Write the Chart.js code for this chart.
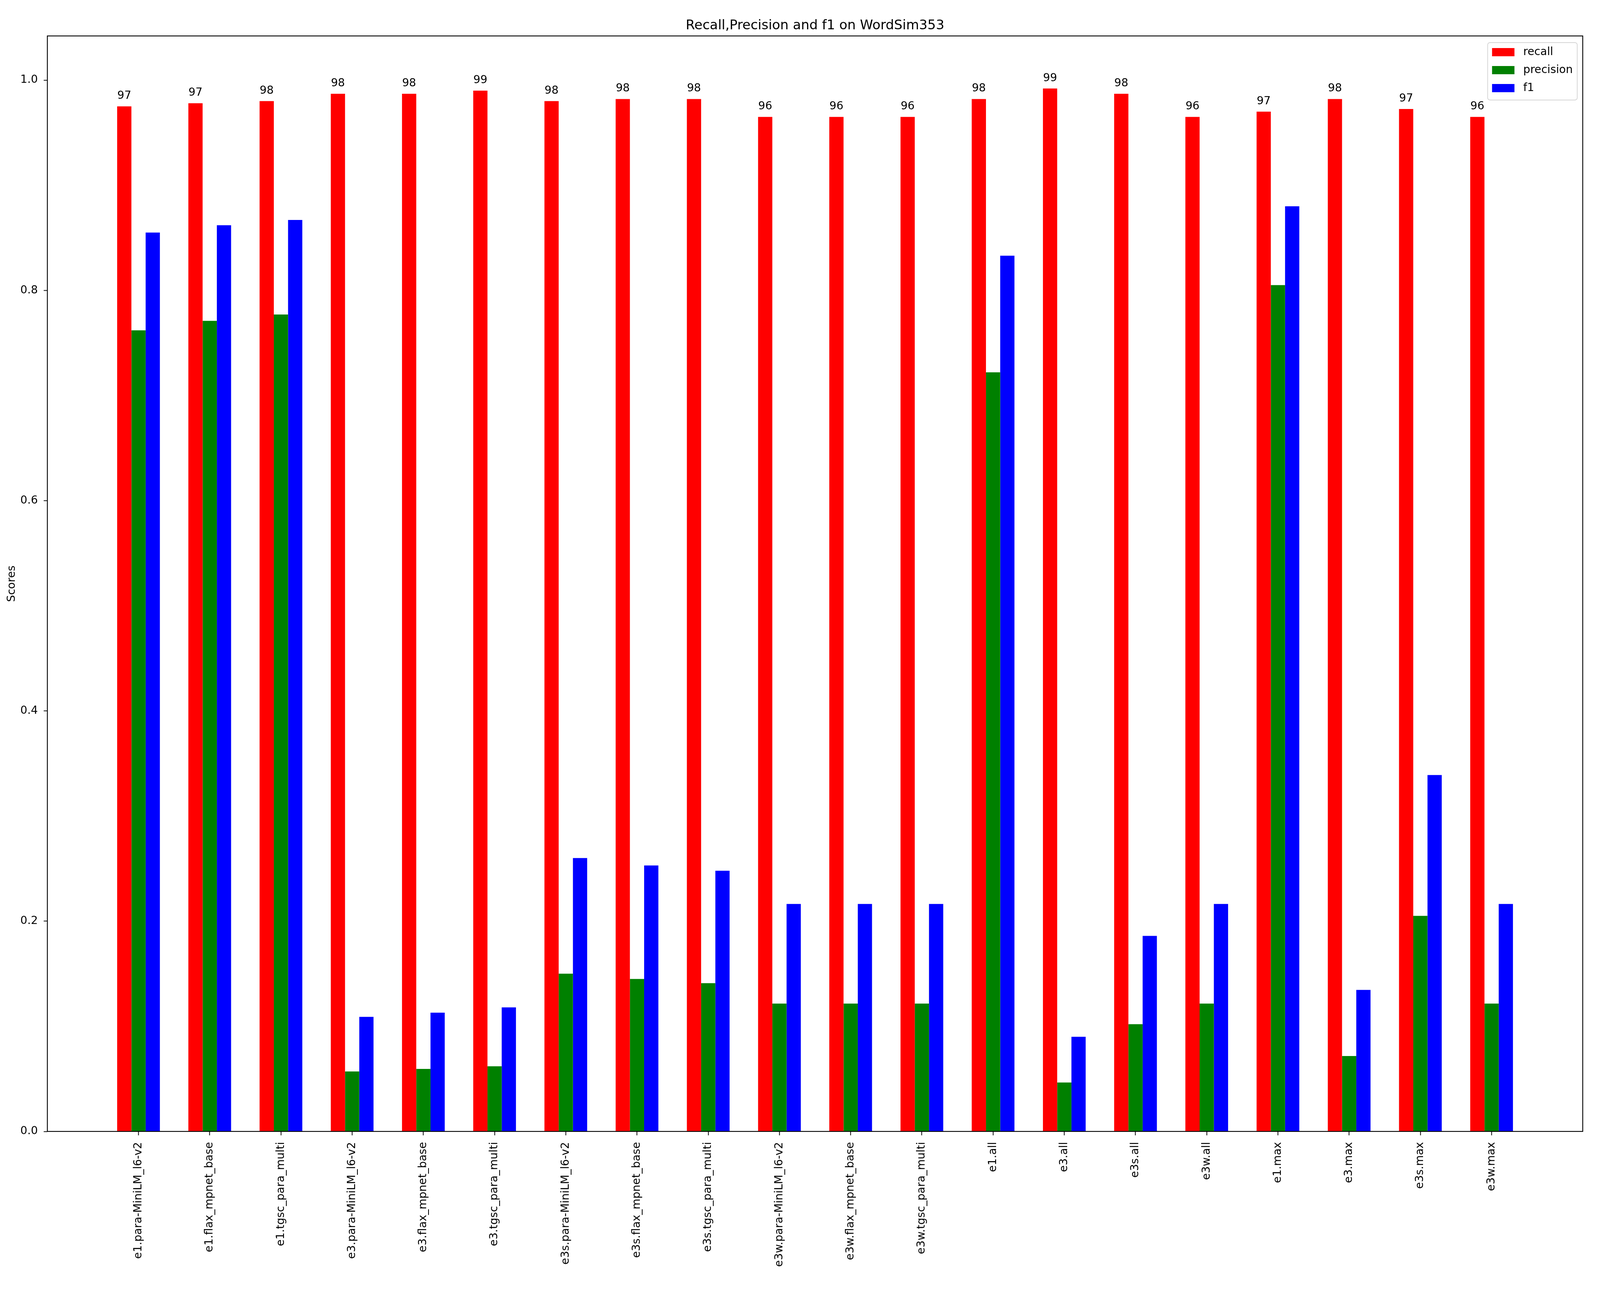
<!DOCTYPE html>
<html>
<head>
<meta charset="utf-8">
<title>Recall,Precision and f1 on WordSim353</title>
<script src="https://cdn.jsdelivr.net/npm/chart.js@4.4.1/dist/chart.umd.min.js"></script>
<style>
    html, body { margin: 0; padding: 0; background: #fff; overflow: hidden; }
    canvas { display: block; }
</style>
</head>
<body>
<canvas id="scoreChart"></canvas>
<script>
// Data
const categories = [
    'e1.para-MiniLM_l6-v2', 'e1.flax_mpnet_base', 'e1.tgsc_para_multi',
    'e3.para-MiniLM_l6-v2', 'e3.flax_mpnet_base', 'e3.tgsc_para_multi',
    'e3s.para-MiniLM_l6-v2', 'e3s.flax_mpnet_base', 'e3s.tgsc_para_multi',
    'e3w.para-MiniLM_l6-v2', 'e3w.flax_mpnet_base', 'e3w.tgsc_para_multi',
    'e1.all', 'e3.all', 'e3s.all', 'e3w.all',
    'e1.max', 'e3.max', 'e3s.max', 'e3w.max'
];
const recall = [0.975, 0.978, 0.980, 0.987, 0.987, 0.990, 0.980, 0.982, 0.982, 0.965,
                0.965, 0.965, 0.982, 0.992, 0.987, 0.965, 0.970, 0.982, 0.9725, 0.965];
const precision = [0.762, 0.771, 0.777, 0.057, 0.0595, 0.062, 0.150, 0.145, 0.141, 0.1216,
                   0.1216, 0.1216, 0.722, 0.0465, 0.102, 0.1216, 0.805, 0.0717, 0.205, 0.1216];
const f1 = [0.855, 0.862, 0.867, 0.109, 0.113, 0.118, 0.260, 0.253, 0.248, 0.2164,
            0.2164, 0.2164, 0.833, 0.090, 0.186, 0.2164, 0.880, 0.1346, 0.339, 0.2164];
const yTicks = [0.0, 0.2, 0.4, 0.6, 0.8, 1.0];

const SERIES_COLORS = ['#ff0000', '#008000', '#0000ff'];
const FONT = 'DejaVu Sans';

// the layout was measured on a 4358x3307 picture; scale it to the window
const W = window.innerWidth || 4358;
const H = window.innerHeight || 3307;
const sx = W / 4358;
const sy = H / 3307;
const fs = Math.sqrt(sx * sy);

const canvas = document.getElementById('scoreChart');
canvas.style.width = W + 'px';
canvas.style.height = H + 'px';
canvas.width = W;
canvas.height = H;

Chart.defaults.font.family = FONT;
Chart.defaults.color = '#000';

const toPoints = arr => arr.map((v, i) => ({ x: i, y: v }));

// percent labels above the recall bars
const recallLabels = {
    id: 'recallLabels',
    afterDatasetsDraw(chart) {
        const ctx = chart.ctx;
        const meta = chart.getDatasetMeta(0);
        ctx.save();
        ctx.font = `${29 * fs}px "${FONT}"`;
        ctx.fillStyle = '#000';
        ctx.textAlign = 'center';
        ctx.textBaseline = 'alphabetic';
        meta.data.forEach((bar, i) => {
            ctx.fillText(String(Math.floor(recall[i] * 100 + 1e-9)), bar.x, bar.y - 19 * sy);
        });
        ctx.restore();
    }
};

// axes frame + legend inside the plot, matplotlib style
const frameAndLegend = {
    id: 'frameAndLegend',
    afterDraw(chart) {
        const ctx = chart.ctx;
        const a = chart.chartArea;
        ctx.save();
        ctx.strokeStyle = '#000';
        ctx.lineWidth = 2.3 * fs;
        ctx.strokeRect(a.left, a.top, a.right - a.left, a.bottom - a.top);

        const boxW = 244 * sx, boxH = 147 * sy;
        const bx = a.right - 15 * sx - boxW, by = a.top + 17 * sy;
        ctx.beginPath();
        ctx.roundRect(bx, by, boxW, boxH, 6 * fs);
        ctx.fillStyle = 'rgba(255,255,255,0.8)';
        ctx.fill();
        ctx.strokeStyle = '#d6d6d6';
        ctx.lineWidth = 2 * fs;
        ctx.stroke();

        ctx.font = `${29 * fs}px "${FONT}"`;
        ctx.textAlign = 'left';
        ctx.textBaseline = 'middle';
        chart.data.datasets.forEach((ds, i) => {
            const cy = by + (24.5 + i * 46) * sy;
            ctx.fillStyle = ds.backgroundColor;
            ctx.fillRect(bx + 12 * sx, cy - 10.5 * sy, 61 * sx, 21 * sy);
            ctx.fillStyle = '#000';
            ctx.fillText(ds.label, bx + 97 * sx, cy);
        });
        ctx.restore();
    }
};

const titleLine = 42 * sy;
const titleTop = 66 * sy - titleLine / 2;
const titleBottom = 92 * sy - titleTop - titleLine;

new Chart(canvas, {
    type: 'bar',
    data: {
        datasets: [
            { label: 'recall', data: toPoints(recall), backgroundColor: SERIES_COLORS[0] },
            { label: 'precision', data: toPoints(precision), backgroundColor: SERIES_COLORS[1] },
            { label: 'f1', data: toPoints(f1), backgroundColor: SERIES_COLORS[2] }
        ]
    },
    options: {
        responsive: false,
        animation: false,
        layout: { padding: { left: 0, right: 47 * sx, top: 0, bottom: 0 } },
        datasets: {
            bar: { categoryPercentage: 0.6, barPercentage: 1.0, borderWidth: 0 }
        },
        plugins: {
            legend: { display: false },
            tooltip: { enabled: false },
            title: {
                display: true,
                text: 'Recall,Precision and f1 on WordSim353',
                fullSize: false,
                font: { size: 35 * fs, weight: 'normal', lineHeight: titleLine + 'px' },
                color: '#000',
                padding: { top: titleTop, bottom: titleBottom }
            }
        },
        scales: {
            x: {
                type: 'linear',
                offset: false,
                min: -1.28,
                max: 20.28,
                afterBuildTicks: scale => {
                    scale.ticks = categories.map((_, i) => ({ value: i }));
                },
                afterFit: scale => { scale.height = 411 * sy; },
                grid: {
                    offset: false,
                    drawOnChartArea: false,
                    drawTicks: true,
                    tickLength: 10 * sy,
                    tickWidth: 2 * fs,
                    tickColor: '#000'
                },
                border: { display: false },
                ticks: {
                    autoSkip: false,
                    minRotation: 90,
                    maxRotation: 90,
                    padding: 17 * sy,
                    font: { size: 29 * fs },
                    color: '#000',
                    callback: value => categories[value] ?? ''
                }
            },
            y: {
                min: 0,
                max: 1.042,
                afterBuildTicks: scale => {
                    scale.ticks = yTicks.map(v => ({ value: v }));
                },
                afterFit: scale => { scale.width = 129 * sx; },
                grid: {
                    drawOnChartArea: false,
                    drawTicks: true,
                    tickLength: 10 * sx,
                    tickWidth: 2 * fs,
                    tickColor: '#000'
                },
                border: { display: false },
                ticks: {
                    padding: 16 * sx,
                    font: { size: 29 * fs },
                    color: '#000',
                    callback: value => Number(value).toFixed(1)
                },
                title: {
                    display: true,
                    text: 'Scores',
                    font: { size: 29 * fs },
                    color: '#000',
                    padding: { top: 33 * sx - 17.4 * fs, bottom: 0 }
                }
            }
        }
    },
    plugins: [recallLabels, frameAndLegend]
});
</script>
</body>
</html>
